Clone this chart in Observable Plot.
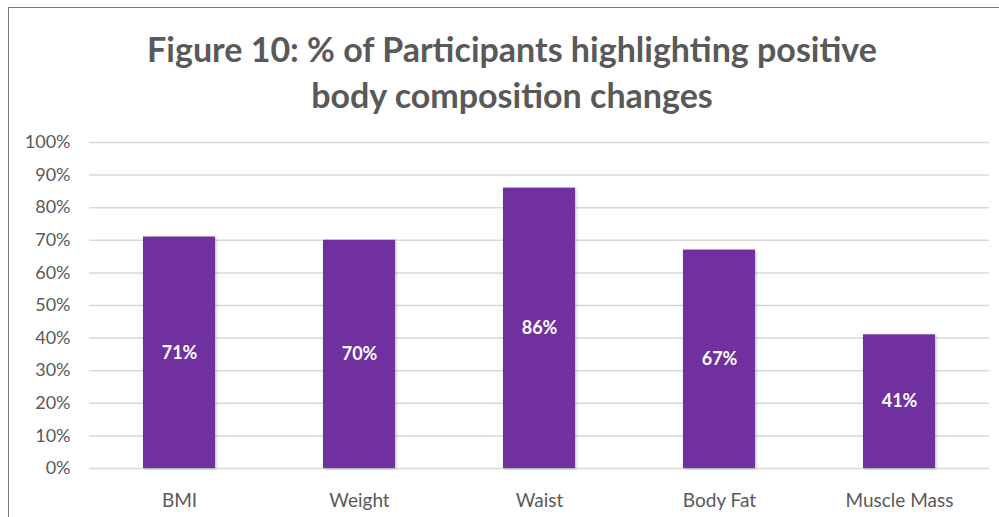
<!DOCTYPE html>
<html>
<head>
<meta charset="utf-8">
<script src="https://cdn.jsdelivr.net/npm/d3@7"></script>
<script src="https://cdn.jsdelivr.net/npm/@observablehq/plot@0.6"></script>
<style>
  html, body { margin: 0; padding: 0; background: #fff; }
  #frame {
    position: relative; width: 999px; height: 517px; overflow: hidden;
    font-family: Lato, "Open Sans", sans-serif;
  }
  #edge {
    position: absolute; left: 8px; top: 7px; width: 1000px; height: 520px;
    border-left: 1.5px solid #7a7a7a; border-top: 1.5px solid #7a7a7a;
  }
  #title {
    position: absolute; left: 0; top: 26px; width: 1024px;
    text-align: center; font-weight: 700; font-size: 34px; line-height: 46px;
    color: #595959;
  }
  #chart { position: absolute; left: 0; top: 125px; }
  .bars rect { filter: drop-shadow(1px 1px 1.5px rgba(0,0,0,0.28)); }
</style>
</head>
<body>
<div id="frame">
  <div id="edge"></div>
  <div id="title">Figure 10: % of Participants highlighting positive<br>body composition changes</div>
  <div id="chart"></div>
</div>
<script>
// Body composition measures and the share of participants reporting a positive change
const measures = ["BMI", "Weight", "Waist", "Body Fat", "Muscle Mass"];
const shares = [71, 70, 86, 67, 41];
const yTicks = [0, 10, 20, 30, 40, 50, 60, 70, 80, 90, 100];

const rows = measures.map((m, i) => ({measure: m, share: shares[i]}));

const chart = Plot.plot({
  width: 999,
  height: 392,
  marginTop: 17,
  marginBottom: 49,
  marginLeft: 89,
  marginRight: 10,
  style: {fontFamily: "Lato, 'Open Sans', sans-serif", background: "transparent"},
  x: {domain: measures, paddingInner: 0.6, paddingOuter: 0.3, label: null},
  y: {domain: [0, 100], label: null},
  marks: [
    Plot.ruleY(yTicks, {stroke: "#d9d9d9", strokeWidth: 1.5}),
    Plot.barY(rows, {x: "measure", y: "share", fill: "#7030A0", className: "bars"}),
    Plot.text(rows, {
      x: "measure", y: d => d.share / 2, text: d => `${d.share}%`,
      fill: "white", fontWeight: "bold", fontSize: 18
    }),
    Plot.axisY(yTicks, {
      tickSize: 0, tickPadding: 19, tickFormat: d => `${d}%`,
      fontSize: 18, fill: "#595959", label: null
    }),
    Plot.axisX({
      tickSize: 0, tickPadding: 25, fontSize: 19, fill: "#595959", label: null
    })
  ]
});
document.getElementById("chart").appendChild(chart);
</script>
</body>
</html>
